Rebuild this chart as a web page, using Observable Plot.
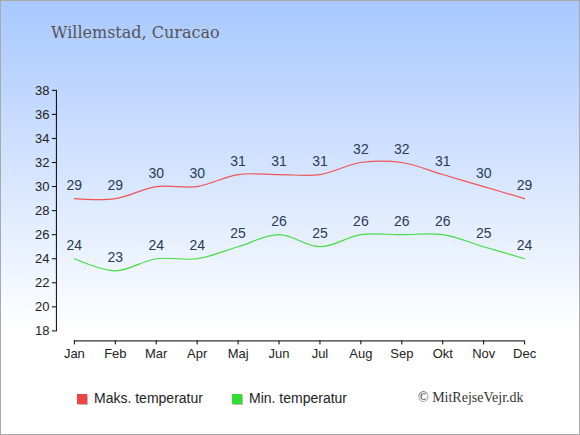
<!DOCTYPE html>
<html>
<head>
<meta charset="utf-8">
<script src="https://cdn.jsdelivr.net/npm/d3@7"></script>
<script src="https://cdn.jsdelivr.net/npm/@observablehq/plot@0.6"></script>
<style>
  html, body { margin: 0; padding: 0; }
  #wrap {
    position: relative; width: 580px; height: 435px; box-sizing: border-box;
    border: 1px solid #aaaaaa;
    background: linear-gradient(to bottom, #a8c8ff 0px, #ffffff 330px, #ffffff 435px);
    overflow: hidden;
  }
  #title {
    position: absolute; left: 50px; top: 22px;
    font-family: "DejaVu Serif", serif; font-size: 16px; color: #555555;
  }
  #chart { position: absolute; left: -1px; top: -1px; }
  .leg { position: absolute; top: 389px; font-family: "Liberation Sans", Arial, sans-serif; font-size: 14px; color: #222; }
  .sw { position: absolute; width: 10px; height: 10px; top: 4px; box-shadow: 1px 1px 0 #bbbbbb; }
  #copy { position: absolute; left: 417px; top: 389px; font-family: "Liberation Serif", "Times New Roman", serif; font-size: 14px; color: #333; }
</style>
</head>
<body>
<div id="wrap">
  <div id="title">Willemstad, Curacao</div>
  <div id="chart"></div>
  <div class="leg" style="left:76px"><span class="sw" style="left:0;background:#ee4444"></span><span style="margin-left:17px">Maks. temperatur</span></div>
  <div class="leg" style="left:231px"><span class="sw" style="left:0;background:#33dd33"></span><span style="margin-left:17px">Min. temperatur</span></div>
  <div id="copy">© MitRejseVejr.dk</div>
</div>
<script>
const months = ["Jan","Feb","Mar","Apr","Maj","Jun","Jul","Aug","Sep","Okt","Nov","Dec"];
const maxTemp = [29,29,30,30,31,31,31,32,32,31,30,29];
const minTemp = [24,23,24,24,25,26,25,26,26,26,25,24];
const yTicks = [18,20,22,24,26,28,30,32,34,36,38];

const maxData = months.map((m, i) => ({month: m, v: maxTemp[i]}));
const minData = months.map((m, i) => ({month: m, v: minTemp[i]}));

const font = "Liberation Sans, Arial, sans-serif";
const chart = Plot.plot({
  width: 580,
  height: 435,
  marginLeft: 56,
  marginRight: 55,
  marginTop: 90,
  marginBottom: 104,
  style: {background: "transparent", fontFamily: font, fontSize: "13px", color: "#222"},
  x: {type: "point", domain: months, range: [74, 525], padding: 0},
  y: {domain: [18, 38], range: [331, 90]},
  marks: [
    Plot.frame({anchor: "left", stroke: "#000"}),
    Plot.axisY({ticks: yTicks, tickSize: 4, tickPadding: 3, label: null, fontSize: 13, stroke: "#000"}),
    Plot.ruleY([18], {x1: () => months[0], x2: () => months[11], dy: 10, stroke: "#000"}),
    Plot.axisX({tickSize: 4, tickPadding: 4, label: null, dy: 10, fontSize: 13, stroke: "#000"}),
    Plot.line(maxData, {x: "month", y: "v", curve: "catmull-rom", stroke: "#f05555", strokeWidth: 1.2}),
    Plot.line(minData, {x: "month", y: "v", curve: "catmull-rom", stroke: "#44dd44", strokeWidth: 1.2}),
    Plot.text(maxData, {x: "month", y: "v", text: d => String(d.v), dy: -13, fill: "#2b3a55", fontSize: 14}),
    Plot.text(minData, {x: "month", y: "v", text: d => String(d.v), dy: -13, fill: "#2b3a55", fontSize: 14})
  ]
});
document.getElementById("chart").appendChild(chart);
</script>
</body>
</html>
